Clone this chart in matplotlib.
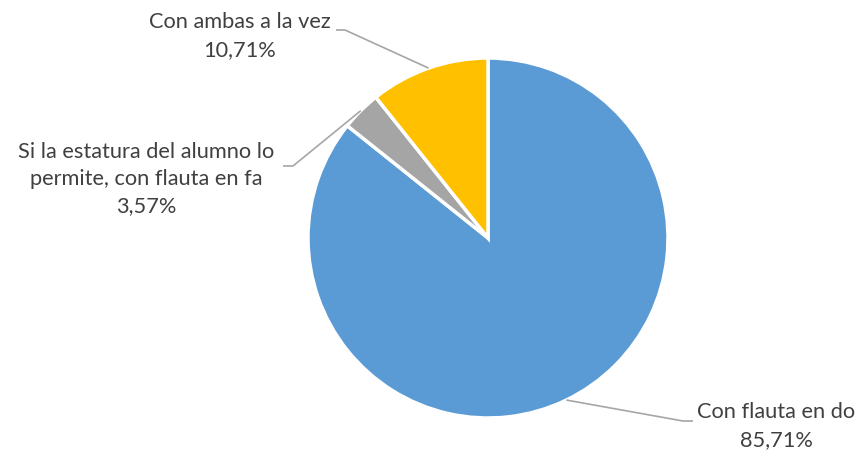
import numpy as np
import matplotlib
matplotlib.use("Agg")
import matplotlib.pyplot as plt

labels = ["Con flauta en do", "Si la estatura del alumno lo\npermite, con flauta en fa", "Con ambas a la vez"]
values = [85.71, 3.57, 10.71]
colors = ["#5B9BD5", "#A5A5A5", "#FFC000"]

W, H = 859, 455
cx, cy, r = 488, H - 238, 180

fig = plt.figure(figsize=(W / 100, H / 100), dpi=100)
ax = fig.add_axes([0, 0, 1, 1])
wedges, _ = ax.pie(values, colors=colors, startangle=90, counterclock=False,
                   center=(cx, cy), radius=r, frame=True,
                   wedgeprops=dict(edgecolor="white", linewidth=2.5))
ax.set_xlim(0, W)
ax.set_ylim(0, H)
ax.set_aspect("equal")
ax.axis("off")

# label text centre, elbow of leader line, angle where leader touches the pie
label_pos = [(776, H - 426), (146, H - 179), (240, H - 36)]
elbows = [((683, H - 421), (693, H - 421)),
          ((293, H - 166), (283, H - 166)),
          ((345, H - 30), (336, H - 30))]
anchor_deg = [-64.2, None, None]

for i, w in enumerate(wedges):
    ang = anchor_deg[i] if anchor_deg[i] is not None else (w.theta1 + w.theta2) / 2
    px = cx + r * np.cos(np.radians(ang))
    py = cy + r * np.sin(np.radians(ang))
    (ex, ey), (tx, ty) = elbows[i]
    ax.plot([px, ex, tx], [py, ey, ty], color="#A6A6A6", lw=1.2, solid_capstyle="butt")
    txt = f"{labels[i]}\n{values[i]:.2f}%".replace(".", ",")
    ax.text(label_pos[i][0], label_pos[i][1], txt, ha="center", va="center",
            fontsize=15.7, color="#404040", family="Lato", linespacing=1.45)

fig.savefig("out.png", dpi=100)
